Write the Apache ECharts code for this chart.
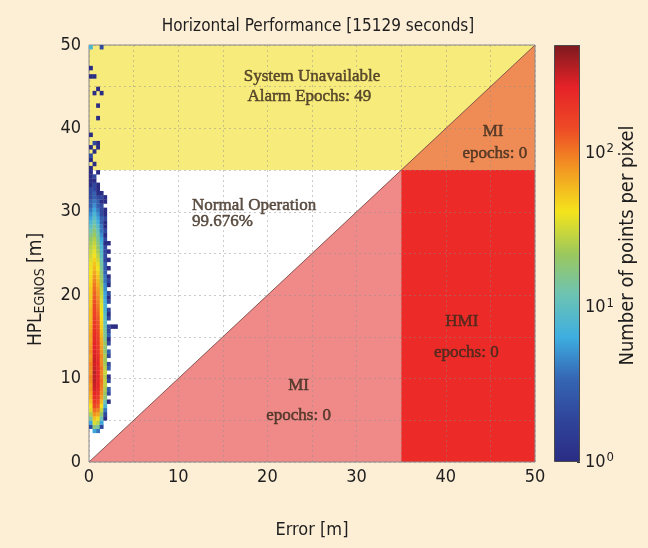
<!DOCTYPE html>
<html><head><meta charset="utf-8">
<script src="https://cdn.jsdelivr.net/npm/echarts@6/dist/echarts.min.js"></script>
<style>html,body{margin:0;padding:0;background:#fdeed6;}#c{width:648px;height:548px;}</style>
</head><body><div id="c"></div>
<script>
// ---------- data ----------
const titleText = 'Horizontal Performance [15129 seconds]';
const xTickValues = [0, 10, 20, 30, 40, 50];
const yTickValues = [0, 10, 20, 30, 40, 50];
const colorbarTickExponents = [0, 1, 2];

// Stanford-plot regions (data coordinates, metres)
const regionUnavailable = [[0, 35], [35, 35], [50, 50], [0, 50]];
const regionMIupper = [[35, 35], [50, 35], [50, 50]];
const regionNormal = [[0, 0], [0, 35], [35, 35]];
const regionMIlower = [[0, 0], [35, 35], [35, 0]];
const regionHMI = [[35, 0], [50, 0], [50, 35], [35, 35]];

// region annotation texts
const annoUnavailable = ['System Unavailable', 'Alarm Epochs: 49'];
const annoMIupper = ['MI', 'epochs: 0'];
const annoNormal = ['Normal Operation', '99.676%'];
const annoHMI = ['HMI', 'epochs: 0'];
const annoMIlower = ['MI', 'epochs: 0'];

// 2-D histogram: bin width (error) and height (HPL), first row bottom
const binW = 0.4, binH = 0.5, firstRowY = 3.5;
// counts per pixel, each row = error bins 0-0.4, 0.4-0.8, ... 2.8-3.2
const histRows = [
 [0,6,4,0,0,0,0,0],
 [2,18,14,2,0,0,0,0],
 [6,35,28,6,0,0,0,0],
 [15,55,45,12,1,0,0,0],
 [25,80,70,20,2,0,0,0],
 [35,110,95,30,4,0,0,0],
 [45,150,130,45,8,0,0,0],
 [55,190,160,60,12,1,0,0],
 [65,230,190,75,18,0,0,0],
 [70,260,220,85,22,2,0,0],
 [80,300,240,95,25,3,0,0],
 [75,320,260,100,28,0,0,0],
 [85,340,250,110,30,2,0,0],
 [90,330,270,100,26,1,0,0],
 [80,350,260,95,30,0,0,0],
 [85,320,240,105,28,3,0,0],
 [90,300,250,90,24,2,0,0],
 [80,310,230,85,22,0,0,0],
 [75,290,220,90,25,2,0,0],
 [85,280,210,80,20,3,0,0],
 [80,270,200,75,18,0,0,0],
 [75,260,190,70,22,2,0,0],
 [70,250,180,65,16,1,0,0],
 [72,230,170,60,15,3,0,0],
 [68,220,160,55,14,2,0,0],
 [65,200,150,50,12,2,1,1],
 [62,190,140,48,10,0,0,0],
 [60,180,130,45,10,2,0,0],
 [58,170,120,42,9,1,0,0],
 [60,160,110,40,8,2,0,0],
 [55,150,100,38,8,0,0,0],
 [55,140,95,35,7,2,0,0],
 [52,130,90,32,6,1,0,0],
 [50,120,80,30,6,2,0,0],
 [50,110,75,28,5,0,0,0],
 [48,100,65,25,5,1,0,0],
 [45,90,60,22,4,2,0,0],
 [45,80,55,20,4,1,0,0],
 [42,70,48,18,3,0,0,0],
 [40,60,42,15,3,1,0,0],
 [38,55,38,14,3,0,0,0],
 [35,48,32,12,2,1,0,0],
 [32,42,28,10,2,0,0,0],
 [30,38,24,9,2,1,0,0],
 [26,34,20,8,2,0,0,0],
 [24,30,18,7,1,1,0,0],
 [20,26,15,6,2,0,0,0],
 [16,22,13,5,1,0,0,0],
 [13,18,11,4,2,0,0,0],
 [10,15,9,4,1,0,0,0],
 [8,12,7,3,1,0,0,0],
 [6,10,6,3,2,0,0,0],
 [5,8,5,2,1,0,0,0],
 [4,6,4,2,1,0,0,0],
 [3,5,3,2,0,0,0,0],
 [3,4,3,1,1,0,0,0],
 [2,3,2,2,1,0,0,0],
 [2,3,1,1,0,0,0,0],
 [2,2,1,0,0,0,0,0],
 [1,2,1,0,0,0,0,0],
 [1,1,0,0,0,0,0,0],
 [1,2,0,0,0,0,0,0],
 [1,0,1,0,0,0,0,0]
];
// isolated epochs above HPL 35 m: [error, HPL, count]
const sparseCells = [
 [0.2,35.25,1],[0.6,35.75,1],[0.2,36.25,1],[0.2,36.75,2],[0.6,37.25,1],
 [0.2,37.75,1],[1.0,37.75,1],[0.6,38.25,2],[1.0,38.25,1],[0.2,39.25,1],
 [1.0,41.25,1],[1.0,42.75,1],[0.6,44.25,1],[1.0,44.75,1],[1.4,44.25,1],
 [0.2,46.25,1],[0.6,46.25,1],[0.2,47.25,1],[0.2,49.75,8],[1.4,49.75,2]
];

// ---------- styles ----------
const BG = '#fdeed6';
const SANS = "'Liberation Sans Narrow','DejaVu Sans Condensed','Roboto Condensed',sans-serif";
const SERIF = "'Liberation Serif','DejaVu Serif',serif";
const jet = ['#2b2c84','#2f449a','#3566b4','#3eaee0','#6cc3b4','#9cc85c','#f4e41c','#f29a22','#ee4a26','#e52228','#7c1a1e'];
const regionColors = ['#f7eb7b', '#ef8c56', '#ffffff', '#f08a88', '#ec2a27'];
const cbMax = 2.7;

// ---------- build ----------
const cells = [];
histRows.forEach((row, i) => {
  const yc = firstRowY + i * binH + binH / 2;
  row.forEach((c, j) => {
    if (c > 0) cells.push([j * binW + binW / 2, yc, c, Math.log10(c)]);
  });
});
sparseCells.forEach(s => cells.push([s[0], s[1], s[2], Math.log10(s[2])]));

const regions = [regionUnavailable, regionMIupper, regionNormal, regionMIlower, regionHMI];

const annotations = [
  {t: annoUnavailable[0], x: 25, y: 46.2, align: 'center'},
  {t: annoUnavailable[1], x: 24.7, y: 43.8, align: 'center'},
  {t: annoMIupper[0], x: 45.3, y: 39.6, align: 'center'},
  {t: annoMIupper[1], x: 45.5, y: 37.0, align: 'center'},
  {t: annoNormal[0], x: 11.5, y: 30.7, align: 'left'},
  {t: annoNormal[1], x: 11.5, y: 28.8, align: 'left'},
  {t: annoHMI[0], x: 41.8, y: 16.8, align: 'center'},
  {t: annoHMI[1], x: 42.3, y: 13.1, align: 'center'},
  {t: annoMIlower[0], x: 23.5, y: 9.2, align: 'center'},
  {t: annoMIlower[1], x: 23.5, y: 5.6, align: 'center'}
];

const gridLine = {show: true, lineStyle: {color: 'rgba(140,140,140,0.45)', type: [2, 3], width: 1}};

const chart = echarts.init(document.getElementById('c'), null, {renderer: 'canvas'});
chart.setOption({
  backgroundColor: BG,
  animation: false,
  title: {
    text: titleText, left: 313, top: 13, textAlign: 'center',
    textStyle: {fontFamily: SANS, fontSize: 17, fontWeight: 'normal', color: '#1e1e1e'}
  },
  grid: [
    {left: 89, top: 45, width: 446, height: 417, show: true, borderColor: '#8a8a8a', borderWidth: 1, z: 5},
    {left: 554, top: 45, width: 26, height: 417}
  ],
  xAxis: [
    {type: 'value', gridIndex: 0, min: 0, max: 50, interval: 10, z: 3,
     name: 'Error [m]', nameLocation: 'middle', nameGap: 59,
     nameTextStyle: {fontFamily: SANS, fontSize: 18, color: '#1e1e1e'},
     axisLine: {show: false}, axisTick: {show: false},
     axisLabel: {fontFamily: SANS, fontSize: 18, color: '#1e1e1e', margin: 6,
                 customValues: xTickValues},
     splitLine: gridLine,
     minorTick: {show: false, splitNumber: 2},
     minorSplitLine: gridLine},
    {type: 'category', gridIndex: 1, data: ['cb'], show: false}
  ],
  yAxis: [
    {type: 'value', gridIndex: 0, min: 0, max: 50, interval: 10, z: 3,
     name: '{a|HPL}{s|EGNOS}{a| [m]}', nameLocation: 'middle', nameGap: 42, nameRotate: 90,
     nameTextStyle: {padding: [0, 72, 0, 0], rich: {
       a: {fontFamily: SANS, fontSize: 19, color: '#1e1e1e'},
       s: {fontFamily: SANS, fontSize: 14, color: '#1e1e1e', verticalAlign: 'bottom', padding: [7, 0, 0, 0]}
     }},
     axisLine: {show: false}, axisTick: {show: false},
     axisLabel: {fontFamily: SANS, fontSize: 18, color: '#1e1e1e', margin: 8,
                 customValues: yTickValues},
     splitLine: gridLine,
     minorTick: {show: false, splitNumber: 2},
     minorSplitLine: gridLine},
    {type: 'value', gridIndex: 1, min: 0, max: cbMax, interval: 1, position: 'right',
     name: 'Number of points per pixel', nameLocation: 'middle', nameGap: 38, nameRotate: 90,
     nameTextStyle: {fontFamily: SANS, fontSize: 20, color: '#1e1e1e', padding: [0, 0, 0, 16]},
     axisLine: {show: false}, splitLine: {show: false},
     axisTick: {show: true, inside: true, length: 3, lineStyle: {color: '#333'}},
     axisLabel: {margin: 5, customValues: colorbarTickExponents,
       formatter: v => '{b|10}{s|' + v + '}',
       rich: {b: {fontFamily: SANS, fontSize: 18, color: '#1e1e1e'},
              s: {fontFamily: SANS, fontSize: 13, color: '#1e1e1e', verticalAlign: 'top', padding: [0, 0, 8, 1]}}}}
  ],
  visualMap: {
    type: 'continuous', show: false, seriesIndex: 2, dimension: 3,
    min: 0, max: cbMax, inRange: {color: jet}
  },
  series: [
    { // regions
      type: 'custom', coordinateSystem: 'cartesian2d', xAxisIndex: 0, yAxisIndex: 0, z: 1,
      data: regions.map((r, i) => [i]),
      renderItem: (params, api) => {
        const idx = api.value(0);
        const pts = regions[idx].map(p => api.coord(p));
        return {type: 'polygon', shape: {points: pts}, style: {fill: regionColors[idx], stroke: null}};
      },
      silent: true
    },
    { // diagonal boundary
      type: 'line', xAxisIndex: 0, yAxisIndex: 0, z: 4, symbol: 'none', silent: true,
      data: [[0, 0], [50, 50]],
      lineStyle: {color: 'rgba(90,50,50,0.7)', width: 1}
    },
    { // 2-D histogram
      type: 'custom', coordinateSystem: 'cartesian2d', xAxisIndex: 0, yAxisIndex: 0, z: 6,
      data: cells, silent: true,
      renderItem: (params, api) => {
        const x = api.value(0), y = api.value(1);
        const p = api.coord([x - binW / 2, y + binH / 2]);
        const s = api.size([binW, binH]);
        return {type: 'rect', shape: {x: p[0], y: p[1], width: s[0] + 0.3, height: s[1] + 0.3},
                style: {fill: api.visual('color')}};
      }
    },
    { // annotations
      type: 'scatter', xAxisIndex: 0, yAxisIndex: 0, z: 7, silent: true,
      symbolSize: 1, itemStyle: {color: 'rgba(0,0,0,0)'},
      data: annotations.map(a => ({
        value: [a.x, a.y],
        label: {show: true, formatter: a.t, position: a.align === 'left' ? 'right' : 'inside', distance: 0,
                fontFamily: SERIF, fontSize: 17, color: '#3b2a1d', textBorderColor: '#3b2a1d', textBorderWidth: 0.5}
      }))
    },
    { // colorbar
      type: 'bar', xAxisIndex: 1, yAxisIndex: 1, barWidth: '100%', silent: true,
      data: [cbMax],
      itemStyle: {
        color: new echarts.graphic.LinearGradient(0, 1, 0, 0,
          jet.map((c, i) => ({offset: i / (jet.length - 1), color: c}))),
        borderColor: '#4a4a4a', borderWidth: 1
      }
    }
  ]
});
</script></body></html>
